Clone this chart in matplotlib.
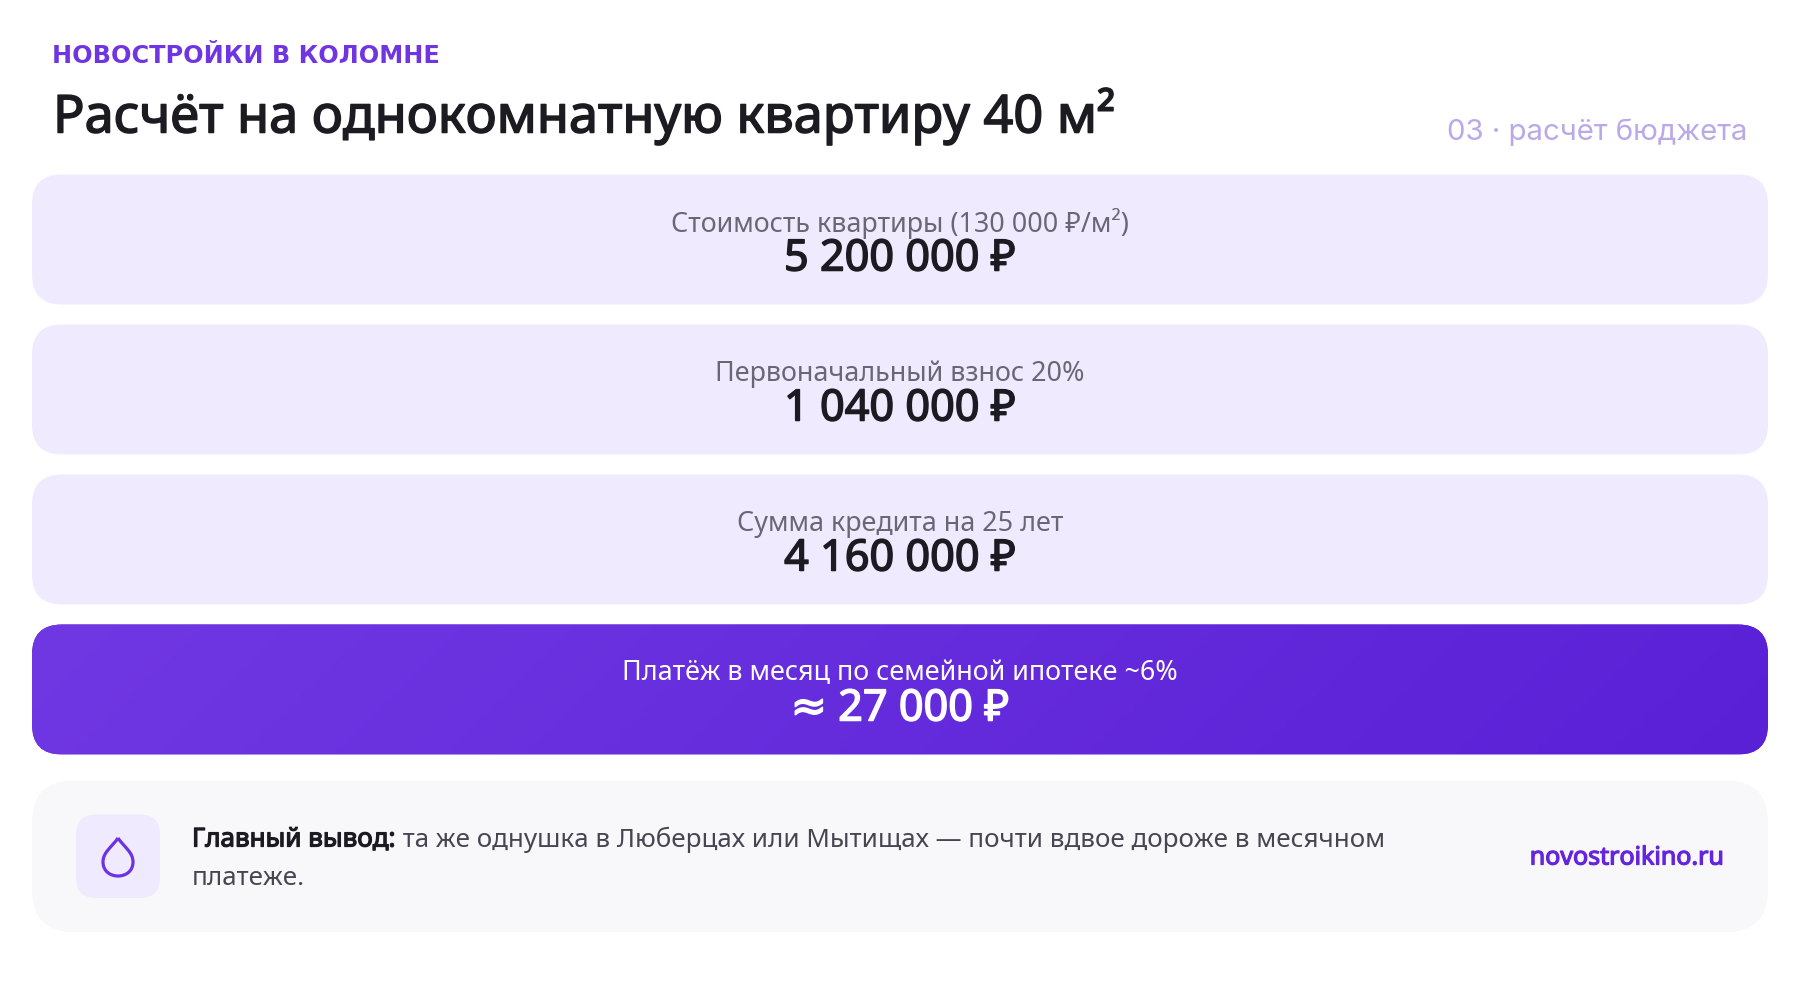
import numpy as np
import matplotlib
matplotlib.use('Agg')
import matplotlib.pyplot as plt
import matplotlib.patheffects as pe
from matplotlib.patches import FancyBboxPatch, PathPatch
from matplotlib.path import Path

kicker = 'НОВОСТРОЙКИ В КОЛОМНЕ'
title = 'Расчёт на однокомнатную квартиру 40 м²'
section = '03 · расчёт бюджета'
labels = ['Стоимость квартиры (130 000 ₽/м²)', 'Первоначальный взнос 20%',
          'Сумма кредита на 25 лет', 'Платёж в месяц по семейной ипотеке ~6%']
values = ['5 200 000 ₽', '1 040 000 ₽', '4 160 000 ₽', '≈ 27 000 ₽']
note_bold = 'Главный вывод:'
note_line1 = ' та же однушка в Люберцах или Мытищах — почти вдвое дороже в месячном'
note_line2 = 'платеже.'
site = 'novostroikino.ru'

body_font = ['Noto Sans', 'DejaVu Sans']
px = 72 / 100  # font sizes below are in image pixels


def card(x0, y0, x1, y1, r, color):
    p = FancyBboxPatch((x0 + r, y0 + r), x1 - x0 - 2 * r, y1 - y0 - 2 * r,
                       boxstyle=f'round,pad={r},rounding_size={r}',
                       fc=color, ec='none', zorder=1)
    ax.add_patch(p)
    return p


def heavy(color, w):
    # Noto Sans is only installed in one weight, so thicken it with a stroke
    return [pe.withStroke(linewidth=w, foreground=color)]


fig = plt.figure(figsize=(18, 9.96), dpi=100, facecolor='white')
ax = fig.add_axes([0, 0, 1, 1])
ax.set_xlim(0, 1800)
ax.set_ylim(996, 0)
ax.axis('off')

ax.text(52, 55.5, kicker, fontsize=24 * px, family=['DejaVu Sans'], weight='bold',
        color='#7035E2', va='center', ha='left')
ax.text(53, 132.5, title, fontsize=52.3 * px, family=body_font,
        color='#1C1B22', va='baseline', ha='left', path_effects=heavy('#1C1B22', 1.1))
ax.text(1747, 140, section, fontsize=29.4 * px, family=['Inter', 'DejaVu Sans'],
        color='#BBA8E8', va='baseline', ha='right')

tops = [174.5, 324.5, 474.5, 624.5]
for i, (lab, val, top) in enumerate(zip(labels, values, tops)):
    bottom = top + 130
    highlight = i == 3
    p = card(32, top, 1768, bottom, 30, '#6428DC' if highlight else '#F0EAFE')
    if highlight:
        # diagonal gradient clipped to the rounded card
        xx, yy = np.meshgrid(np.linspace(0, 1, 400), np.linspace(0, 1, 40))
        t = (xx * 1736 + yy * 130) / (1736 + 130)
        c0 = np.array([0x70, 0x38, 0xE3]) / 255
        c1 = np.array([0x5A, 0x20, 0xD6]) / 255
        img = c0 + (c1 - c0) * t[..., None]
        im = ax.imshow(img, extent=(32, 1768, bottom, top), aspect='auto', zorder=1.5)
        im.set_clip_path(p)
        ax.set_xlim(0, 1800)
        ax.set_ylim(996, 0)
    val_color = 'white' if highlight else '#1C1B22'
    ax.text(900, top + 49, lab, fontsize=26.9 * px, family=body_font,
            color='white' if highlight else '#6B6676', ha='center', va='center', zorder=3)
    ax.text(900, top + 85, val, fontsize=43.2 * px, family=body_font,
            color=val_color, ha='center', va='center', zorder=3,
            path_effects=heavy(val_color, 1.1))

# bottom note card
card(32, 780.5, 1768, 932, 42, '#F8F8FB')
card(76, 814.5, 160, 898, 20, '#F0EAFE')
drop = Path([(118, 838), (112, 847), (103, 852), (103, 862), (103, 871), (110, 876), (118, 876),
             (126, 876), (133, 871), (133, 862), (133, 852), (124, 847), (118, 838)],
            [Path.MOVETO] + [Path.CURVE4] * 12)
ax.add_patch(PathPatch(drop, fc='none', ec='#6B33E2', lw=3.2 * px, zorder=3, joinstyle='round'))

t = ax.text(192, 840, note_bold, fontsize=26 * px, family=body_font,
            color='#1C1B22', ha='left', va='center', zorder=3,
            path_effects=heavy('#1C1B22', 0.9))
ax.annotate(note_line1, xy=(1, 0.5), xycoords=t, fontsize=26 * px, family=body_font,
            color='#474552', ha='left', va='center', zorder=3)
ax.text(192, 878, note_line2, fontsize=26 * px, family=body_font,
        color='#474552', ha='left', va='center', zorder=3)
ax.text(1724, 858, site, fontsize=25 * px, family=body_font,
        color='#6426DC', ha='right', va='center', zorder=3,
        path_effects=heavy('#6426DC', 0.9))

fig.savefig('out.png', dpi=100, facecolor='white')
